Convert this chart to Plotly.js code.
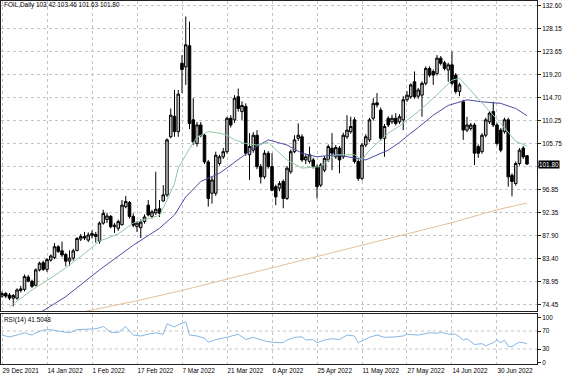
<!DOCTYPE html>
<html>
<head>
<meta charset="utf-8">
<script src="https://cdn.plot.ly/plotly-3.0.1.min.js"></script>
<style>html,body{margin:0;padding:0;background:#fff;}#chart{width:564px;height:376px;}</style>
</head>
<body>
<div id="chart"></div>
<script>
// ---- data ----
const open  = [76.1,76.6,76.3,75.7,75.7,77.2,77.4,79.8,79.0,78.2,81.2,82.6,81.3,83.1,83.6,85.7,84.9,84.2,82.9,83.5,
85.0,87.2,87.7,87.0,87.9,88.1,86.8,90.3,91.0,91.6,89.6,89.3,90.0,93.5,94.3,91.6,89.6,89.4,90.6,93.8,
91.6,92.3,93.1,94.6,95.8,107.1,111.1,108.1,121.4,120.7,124.8,110.4,105.8,109.4,107.4,102.2,96.1,96.1,101.9,103.2,
104.2,110.7,110.4,114.9,112.0,113.0,103.6,104.5,107.4,101.3,99.3,103.9,101.3,97.4,97.1,98.4,95.1,100.3,104.2,106.8,
107.1,102.6,102.3,102.6,101.3,97.7,100.6,102.6,104.9,103.2,104.9,103.2,107.1,108.1,110.4,102.3,99.0,105.5,106.5,110.7,
113.7,112.3,106.8,110.7,110.0,110.7,110.0,110.4,114.3,114.9,117.8,115.0,115.2,117.5,120.4,119.8,119.4,122.4,121.5,120.1,
121.1,119.1,115.9,113.9,108.4,108.7,109.4,105.2,104.2,107.4,110.0,112.0,109.4,108.4,108.1,110.4,99.6,98.0,101.9,104.9,103.42];
const high  = [77.0,76.9,76.7,76.5,77.6,78.1,80.3,80.2,79.3,81.5,82.8,83.0,83.5,84.2,86.4,86.0,86.7,84.5,85.0,85.3,
87.6,88.2,88.6,88.5,88.9,88.6,90.6,92.9,92.3,91.9,90.3,91.0,94.8,95.6,94.6,92.2,90.7,91.0,92.0,94.8,
92.9,100.3,94.8,97.7,106.8,112.6,116.2,116.2,123.0,130.5,129.5,114.6,110.0,110.0,107.8,102.6,99.3,104.2,103.6,104.9,
111.0,111.3,115.2,116.5,114.0,113.6,107.8,108.0,108.4,101.8,104.5,104.3,103.9,97.8,98.5,98.8,101.4,104.6,107.4,109.7,
107.6,103.8,105.2,103.0,101.7,102.0,103.3,105.6,107.8,105.5,105.3,107.9,111.3,111.0,110.9,102.7,105.9,107.6,110.8,114.6,
115.6,112.8,109.6,111.1,111.4,111.7,111.5,115.0,116.0,117.5,119.8,116.6,117.9,120.8,120.8,120.2,123.0,122.8,121.9,121.5,
123.7,119.5,117.6,114.3,111.0,109.8,109.8,105.6,107.8,110.8,112.1,113.9,109.8,108.8,110.8,110.8,100.0,102.3,104.9,105.3,103.46];
const low   = [75.8,75.7,75.3,74.1,75.4,76.8,77.0,78.8,77.7,78.0,80.9,81.0,80.8,82.8,83.3,84.5,83.7,81.9,82.0,83.0,
84.8,86.8,87.0,86.6,87.3,86.5,86.3,90.0,90.3,89.3,88.4,88.8,89.8,93.2,91.2,89.5,88.6,87.4,90.2,91.6,
91.2,91.9,91.5,94.5,95.4,106.8,107.1,107.1,115.6,117.2,108.6,105.5,105.2,107.0,101.8,93.5,94.1,95.6,101.5,102.8,
103.8,108.9,109.8,112.0,110.4,103.4,98.7,104.0,100.8,98.0,98.9,100.9,96.5,93.8,96.5,93.2,94.8,99.9,103.9,106.3,
102.2,101.8,101.9,100.9,95.1,97.3,100.2,102.2,100.6,102.8,100.0,102.8,106.7,107.7,101.9,98.5,98.6,105.1,106.1,110.3,
112.8,106.4,103.2,109.0,109.6,109.3,109.6,108.4,113.9,114.5,114.5,114.5,111.0,117.1,118.7,117.2,119.0,121.0,120.0,117.8,
117.1,115.5,115.0,106.5,108.0,108.3,101.6,103.0,103.8,107.0,109.6,109.0,105.4,104.1,107.7,97.4,95.5,97.6,101.5,102.8,101.63];
const close = [76.6,76.1,75.7,76.2,77.3,77.5,79.9,79.0,78.0,81.2,82.5,81.3,83.2,83.9,85.7,84.8,84.1,82.9,83.5,84.9,
87.3,87.7,87.4,88.0,88.3,87.7,90.3,92.2,91.7,89.6,89.9,90.6,93.8,94.5,91.6,89.9,90.3,90.5,91.5,91.9,
92.5,93.0,92.2,95.8,106.5,111.3,108.1,115.4,120.2,125.0,109.7,106.1,109.4,107.4,102.2,95.1,98.7,103.5,103.2,104.2,
110.7,109.4,114.6,112.6,113.2,103.9,105.2,107.4,101.3,99.3,103.9,101.3,96.7,95.4,98.0,95.1,101.0,104.2,106.5,107.4,
102.6,103.2,103.6,101.3,97.4,101.6,102.9,105.2,103.9,105.0,102.6,107.4,108.4,109.1,102.3,99.0,105.5,107.1,110.4,113.6,
113.3,106.8,109.1,109.4,110.7,109.7,111.0,114.3,115.2,117.2,114.9,116.2,117.5,120.4,119.1,119.1,122.4,121.4,120.4,121.1,
117.5,115.9,117.2,108.4,109.4,109.4,103.9,103.9,107.4,110.4,111.7,109.4,105.8,104.5,110.4,99.3,98.4,101.9,104.5,103.2,101.80];

// moving averages (bar number, value)
const maFastX = [2,8,13,17,22,26,31,35,39,42,44,46,47,50,52,55,58,60,62,65,68,71,76,80,85,89,94,96,98,103,106,111,115,120,122,124,128,133,137,140];
const maFastY = [74.0,77.3,79.6,81.6,84.4,86.8,88.2,90.3,91.2,91.8,94.8,98.0,101.0,104.8,107.0,108.1,107.8,107.4,106.5,105.8,105.5,106.0,102.6,101.0,101.3,103.6,103.6,102.6,104.5,107.8,109.2,112.0,114.6,118.1,118.5,116.9,113.6,109.7,106.2,105.3];
const maMidX  = [10,17,26,35,42,46,49,53,58,62,67,71,76,80,84,89,94,97,103,106,109,111,115,119,124,128,133,137,140];
const maMidY  = [72.8,76.0,81.2,86.0,89.3,91.9,95.4,98.4,100.0,102.2,104.8,106.5,105.5,103.9,103.2,103.6,102.9,102.6,104.5,106.0,107.8,108.9,111.3,113.2,114.3,113.9,113.6,112.6,111.2];
const maSlowX = [20,24,36,48,60,72,84,96,108,120,132,140];
const maSlowY = [72.8,73.4,75.2,77.2,79.4,81.6,83.8,86.0,88.2,90.4,92.9,94.2];

// RSI(14)
const rsiX = [0,2,4,6,8,9,11,13,15,18,20,23,25,27,29,31,33,35,37,39,41,43,44,46,47,49,50,52,54,55,57,60,63,65,67,70,72,75,76,78,80,81,83,84,86,88,90,92,94,95,98,100,102,105,107,108,111,114,116,117,119,121,123,124,126,128,129,131,132,133,134,135,136,137,138,139,140];
const rsiY = [61,57,61,66,61,66,72,73,70,66,73,75,75,80,67,67,80,61,59,63,66,63,86,79,84,90,61,59,54,45,51,56,63,51,56,48,45,44,50,56,57,50,51,44,50,53,51,61,59,44,56,61,56,57,59,63,61,66,65,68,63,63,50,53,40,42,37,44,50,44,50,36,35,41,45,44,41.5];
const rsiLevels = [30, 70];

// axis ticks
const dateTickPos  = [0,12,24,36,48,60,72,84,96,108,120,132];
const dateTickText = ['29 Dec 2021','14 Jan 2022','1 Feb 2022','17 Feb 2022','7 Mar 2022','21 Mar 2022','6 Apr 2022','25 Apr 2022','11 May 2022','27 May 2022','14 Jun 2022','30 Jun 2022'];
const priceTicks = [132.60,128.15,123.65,119.20,114.70,110.25,105.75,101.30,96.85,92.35,87.90,83.40,78.95,74.45];
const priceTickText = ['132.60','128.15','123.65','119.20','114.70','110.25','105.75','','96.85','92.35','87.90','83.40','78.95','74.45'];
const rsiTicks = [0,30,70,100];
const symbolName = 'FOIL,Daily';
const lastPrice = 101.80;
const rsiName = 'RSI(14)';
const rsiLast = '41.5048';

// ---- drawing ----
const bars = close.map((_, i) => i);
const FONT = 'Liberation Sans, Arial, sans-serif';
const GRID = '#c4c4c4';

const traces = [
  {type:'scatter', mode:'lines', x:maSlowX, y:maSlowY, xaxis:'x', yaxis:'y', line:{color:'#e2bf98', width:1}, hoverinfo:'skip'},
  {type:'scatter', mode:'lines', x:maMidX, y:maMidY, xaxis:'x', yaxis:'y', line:{color:'#4c4ca6', width:1}, hoverinfo:'skip'},
  {type:'scatter', mode:'lines', x:maFastX, y:maFastY, xaxis:'x', yaxis:'y', line:{color:'#93c9a4', width:1}, hoverinfo:'skip'},
  {type:'candlestick', x:bars, open:open, high:high, low:low, close:close, xaxis:'x', yaxis:'y',
   increasing:{line:{color:'#000', width:1}, fillcolor:'#c0c0c0'},
   decreasing:{line:{color:'#000', width:1}, fillcolor:'#000'},
   whiskerwidth:0, hoverinfo:'skip'},
  {type:'scatter', mode:'lines', x:rsiX, y:rsiY, xaxis:'x', yaxis:'y2', line:{color:'#86b7e6', width:1}, hoverinfo:'skip'}
];

const shapes = rsiLevels.map(v => ({type:'line', xref:'paper', x0:0, x1:1, yref:'y2', y0:v, y1:v, line:{color:GRID, width:1, dash:'dot'}, layer:'below'}));

const annotations = [
  {xref:'paper', yref:'paper', x:0, y:0.990, xanchor:'left', yanchor:'middle', xshift:1, text:symbolName+' '+open[open.length-1].toFixed(2)+' '+high[high.length-1].toFixed(2)+' '+low[low.length-1].toFixed(2)+' '+close[close.length-1].toFixed(2), showarrow:false, font:{family:FONT, size:6.4, color:'#000'}},
  {xref:'paper', yref:'paper', x:0, y:0.121, xanchor:'left', yanchor:'middle', xshift:1, text:rsiName+' '+rsiLast, showarrow:false, font:{family:FONT, size:6.4, color:'#000'}},
  {xref:'paper', yref:'y', x:1, y:lastPrice, xanchor:'left', yanchor:'middle', xshift:1, text:lastPrice.toFixed(2), showarrow:false, bgcolor:'#000', borderpad:0, font:{family:FONT, size:6.4, color:'#fff'}}
];

const layout = {
  width:564, height:376,
  margin:{l:1, r:27, t:1, b:12, pad:0},
  paper_bgcolor:'#fff', plot_bgcolor:'#fff',
  showlegend:false,
  boxgap:0.15, boxgroupgap:0.2,
  font:{family:FONT, size:6.4, color:'#000'},
  xaxis:{range:[-0.27,142.67], anchor:'y2', tickmode:'array', tickvals:dateTickPos, ticktext:dateTickText,
         ticklabelposition:'outside right', tickangle:0, ticks:'', showgrid:true, gridcolor:GRID, griddash:'dot', gridwidth:1,
         showline:true, mirror:'all', linecolor:'#222', linewidth:1, zeroline:false, rangeslider:{visible:false}, fixedrange:true},
  yaxis:{domain:[0.146,1], range:[73.20,133.52], side:'right', tickmode:'array', tickvals:priceTicks, ticktext:priceTickText,
         ticks:'outside', ticklen:3, tickcolor:'#222', showgrid:true, gridcolor:GRID, griddash:'dot', gridwidth:1,
         showline:true, mirror:true, linecolor:'#222', linewidth:1, zeroline:false, fixedrange:true},
  yaxis2:{domain:[0,0.1377], range:[-3.3,107.8], side:'right', tickmode:'array', tickvals:rsiTicks,
          ticks:'outside', ticklen:3, tickcolor:'#222', showgrid:false,
          showline:true, mirror:true, linecolor:'#222', linewidth:1, zeroline:false, fixedrange:true},
  shapes:shapes,
  annotations:annotations
};

Plotly.newPlot('chart', traces, layout, {staticPlot:true, displayModeBar:false});
</script>
</body>
</html>
